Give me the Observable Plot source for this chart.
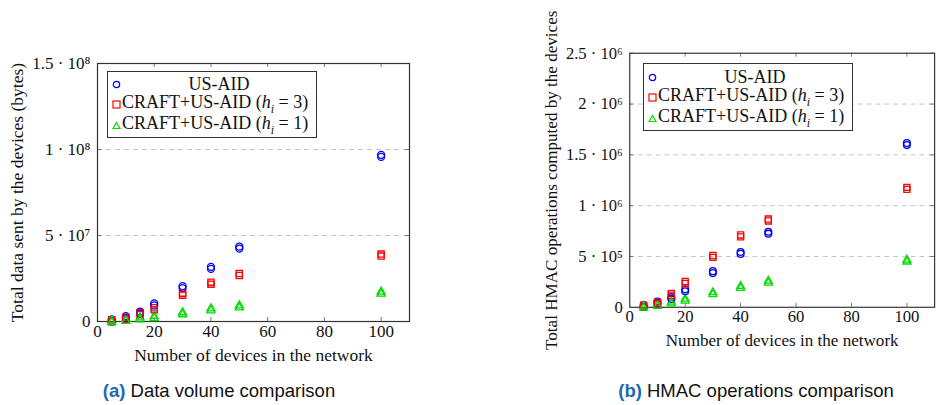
<!DOCTYPE html>
<html>
<head>
<meta charset="utf-8">
<script src="https://cdn.jsdelivr.net/npm/d3@7"></script>
<script src="https://cdn.jsdelivr.net/npm/@observablehq/plot@0.6"></script>
<style>
  body { margin:0; width:939px; height:405px; overflow:hidden; position:relative; background:#fff; }
  .panel { position:absolute; top:0; }
  .legend { position:absolute; border:1.2px solid #333; background:#fff; font-family:"Liberation Serif", serif; font-size:18px; color:#111; box-sizing:border-box; }
  .row { position:absolute; left:0; right:0; height:20px; display:flex; align-items:center; white-space:nowrap; }
  .row svg { position:absolute; left:4px; }
  .row span { position:absolute; left:14px; }
  .row span.c { left:14px; right:0; text-align:center; }
  .cap { position:absolute; top:380px; font-family:"Liberation Sans", Arial, sans-serif; font-size:18.5px; color:#111; transform:translateX(-50%); white-space:nowrap; }
  .cap b { color:#1f68ad; }
</style>
</head>
<body>
<div id="pa" class="panel" style="left:0"></div>
<div id="pb" class="panel" style="left:470px"></div>

<div class="legend" style="left:107px;top:71px;width:210px;height:67px">
  <div class="row" style="top:2px"><svg width="9" height="9"><circle cx="4.5" cy="4.5" r="3.2" fill="none" stroke="#0000ff" stroke-width="1.2"/></svg><span class="c">US-AID</span></div>
  <div class="row" style="top:22px"><svg width="9" height="9"><rect x="1" y="1" width="7" height="7" fill="none" stroke="#ff0000" stroke-width="1.2"/></svg><span>CRAFT+US-AID (<i>h</i><sub style="font-size:12px"><i>i</i></sub> = 3)</span></div>
  <div class="row" style="top:43px"><svg width="9" height="9"><path d="M4.5,1.5L8,7.5L1,7.5Z" fill="none" stroke="#00dd00" stroke-width="1.2"/></svg><span>CRAFT+US-AID (<i>h</i><sub style="font-size:12px"><i>i</i></sub> = 1)</span></div>
</div>
<div class="legend" style="left:643px;top:63px;width:210px;height:68px">
  <div class="row" style="top:3px"><svg width="9" height="9"><circle cx="4.5" cy="4.5" r="3.2" fill="none" stroke="#0000ff" stroke-width="1.2"/></svg><span class="c">US-AID</span></div>
  <div class="row" style="top:23px"><svg width="9" height="9"><rect x="1" y="1" width="7" height="7" fill="none" stroke="#ff0000" stroke-width="1.2"/></svg><span>CRAFT+US-AID (<i>h</i><sub style="font-size:12px"><i>i</i></sub> = 3)</span></div>
  <div class="row" style="top:44px"><svg width="9" height="9"><path d="M4.5,1.5L8,7.5L1,7.5Z" fill="none" stroke="#00dd00" stroke-width="1.2"/></svg><span>CRAFT+US-AID (<i>h</i><sub style="font-size:12px"><i>i</i></sub> = 1)</span></div>
</div>

<div class="cap" style="left:219px"><b>(a)</b> Data volume comparison</div>
<div class="cap" style="left:756px"><b>(b)</b> HMAC operations comparison</div>

<script>
// ---- data ----
const devices = [5, 10, 15, 20, 30, 40, 50, 100];

const dataUsAid  = [0.6e6, 2.5e6, 5.2e6, 9.9e6, 2.0e7, 3.12e7, 4.3e7, 9.63e7];
const dataCraft3 = [0.5e6, 1.9e6, 4.5e6, 7.4e6, 1.59e7, 2.23e7, 2.73e7, 3.86e7];
const dataCraft1 = [0.2e6, 0.9e6, 1.7e6, 2.5e6, 4.7e6, 7.0e6, 8.7e6, 1.67e7];

const hmacUsAid  = [1.2e4, 4.8e4, 9.0e4, 1.67e5, 3.46e5, 5.35e5, 7.34e5, 1.606e6];
const hmacCraft3 = [1.2e4, 4.2e4, 1.28e5, 2.44e5, 5.0e5, 7.02e5, 8.59e5, 1.17e6];
const hmacCraft1 = [4e3, 2.2e4, 4.5e4, 7.4e4, 1.38e5, 1.99e5, 2.5e5, 4.58e5];

const xTicks = [0, 20, 40, 60, 80, 100];
const yTicksA = [0, 5e7, 1e8, 1.5e8];
const yLabelsA = ["0", "5 · 10⁷", "1 · 10⁸", "1.5 · 10⁸"];
const yTicksB = [0, 5e5, 1e6, 1.5e6, 2e6, 2.5e6];
const yLabelsB = ["0", "5 · 10⁵", "1 · 10⁶", "1.5 · 10⁶", "2 · 10⁶", "2.5 · 10⁶"];

const xLabel = "Number of devices in the network";
const yLabelA = "Total data sent by the devices (bytes)";
const yLabelB = "Total HMAC operations computed by the devices";

const seriesNames = ["US-AID", "CRAFT+US-AID (h=3)", "CRAFT+US-AID (h=1)"];
const seriesColors = ["#0000ff", "#ff0000", "#00dd00"];
const seriesSymbols = ["circle", "square", "triangle"];

function rows(vals) {
  const out = [];
  vals.forEach((arr, s) => arr.forEach((v, i) => out.push({x: devices[i], y: v, s})));
  return out;
}

function makeChart({series, yTicks, yLabels, yMax, yLabel, width, height, mL, mR, mT, mB, grid}) {
  const data = rows(series);
  const plotW = width - mL - mR, plotH = height - mT - mB;
  const font = "Liberation Serif, serif";
  const marks = [
    Plot.gridY(grid, {stroke: "#c4c4c4", strokeOpacity: 1, strokeDasharray: "5,4", strokeWidth: 1}),
    Plot.tickX(xTicks.slice(1), {x: d => d, stroke: "#777", insetTop: plotH - 4}),
    Plot.tickX(xTicks.slice(1), {x: d => d, stroke: "#777", insetBottom: plotH - 4}),
    Plot.tickY(yTicks.slice(1), {y: d => d, stroke: "#777", insetRight: plotW - 4}),
    Plot.tickY(yTicks.slice(1), {y: d => d, stroke: "#777", insetLeft: plotW - 4}),
    Plot.frame({stroke: "#333", strokeWidth: 1.2}),
    Plot.axisX({ticks: xTicks, tickSize: 0, tickPadding: 3, tickFormat: d => String(d), label: null, fontSize: 17}),
    Plot.axisY({ticks: yTicks, tickSize: 0, tickPadding: 7, tickFormat: d => yLabels[yTicks.indexOf(d)], label: null, fontSize: 17}),
    Plot.text([xLabel], {frameAnchor: "bottom", lineAnchor: "middle", dy: 34, fontSize: 17.5, fill: "#111"}),
    Plot.text([yLabel], {frameAnchor: "left", textAnchor: "middle", rotate: -90, dx: -80, fontSize: 17.5, fill: "#111"})
  ];
  for (const dy of [-1, 1]) {
    marks.push(Plot.dot(data, {x: "x", y: "y", dy, symbol: d => seriesSymbols[d.s], stroke: d => seriesColors[d.s], r: d => d.s === 2 ? 3 : 3.5, strokeWidth: 1.3, fill: "none"}));
  }
  return Plot.plot({
    width, height,
    marginLeft: mL, marginRight: mR, marginTop: mT, marginBottom: mB,
    style: {fontFamily: font, fontSize: "17px", color: "#111", background: "transparent"},
    x: {domain: [0, 110]},
    y: {domain: [0, yMax]},
    symbol: {type: "identity"},
    r: {type: "identity"},
    marks
  });
}

document.getElementById("pa").append(makeChart({
  series: [dataUsAid, dataCraft3, dataCraft1],
  yTicks: yTicksA, yLabels: yLabelsA, yMax: 1.5e8, yLabel: yLabelA,
  width: 470, height: 370, mL: 97, mR: 61, mT: 63, mB: 49, grid: [5e7, 1e8]
}));
document.getElementById("pb").append(makeChart({
  series: [hmacUsAid, hmacCraft3, hmacCraft1],
  yTicks: yTicksB, yLabels: yLabelsB, yMax: 2.5e6, yLabel: yLabelB,
  width: 480, height: 370, mL: 163, mR: 5, mT: 54, mB: 56, grid: [5e5, 1e6, 1.5e6, 2e6]
}));
</script>
</body>
</html>
